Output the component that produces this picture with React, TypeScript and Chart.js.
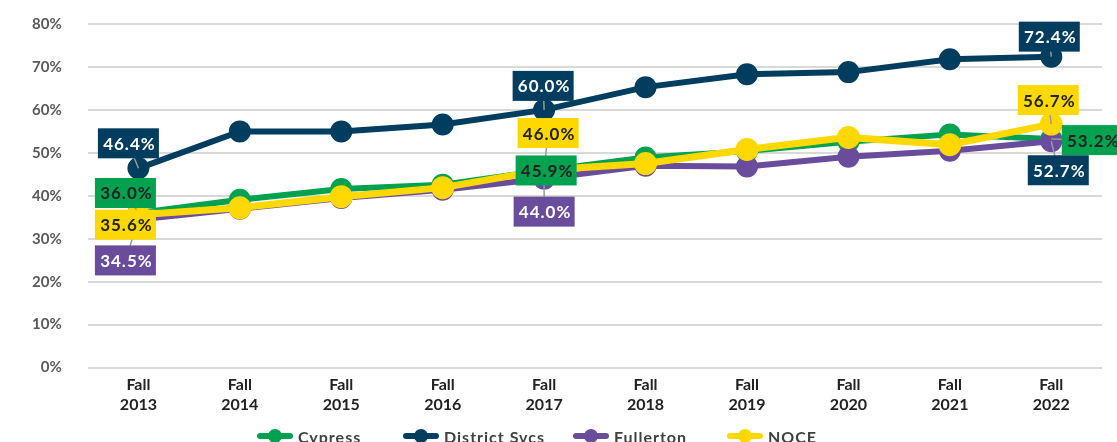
import React, { useEffect, useRef } from "react";
import { Chart, registerables } from "chart.js";

Chart.register(...registerables);

const years = ["2013", "2014", "2015", "2016", "2017", "2018", "2019", "2020", "2021", "2022"];
const categories = years.map((y) => ["Fall", y]);

const cypress = [36.0, 39.1, 41.6, 42.6, 45.9, 48.9, 50.4, 52.6, 54.3, 53.2];
const districtSvcs = [46.4, 55.0, 55.0, 56.6, 60.0, 65.3, 68.3, 68.8, 71.8, 72.4];
const fullerton = [34.5, 37.0, 39.5, 41.4, 44.0, 47.0, 46.8, 49.1, 50.5, 52.7];
const noce = [35.6, 37.2, 39.8, 41.9, 46.0, 47.5, 50.8, 53.6, 51.9, 56.7];

const yTicks = [0, 10, 20, 30, 40, 50, 60, 70, 80];

const GREEN = "#00A24F";
const NAVY = "#003D5E";
const PURPLE = "#6A4C9C";
const YELLOW = "#FFD800";
const FONT = "Lato";

// labelled points: dataset index, point index, pixel offset of label centre, colours
const labels = [
  { ds: 1, i: 0, dx: -10, dy: -25, bg: NAVY, fg: "#fff" },
  { ds: 0, i: 0, dx: -13, dy: -20, bg: GREEN, fg: "#222" },
  { ds: 3, i: 0, dx: -13, dy: 10, bg: YELLOW, fg: "#222" },
  { ds: 2, i: 0, dx: -13, dy: 41, bg: PURPLE, fg: "#fff" },
  { ds: 1, i: 4, dx: -1, dy: -24, bg: NAVY, fg: "#fff" },
  { ds: 3, i: 4, dx: 4, dy: -37, bg: YELLOW, fg: "#222" },
  { ds: 0, i: 4, dx: 2, dy: 0, bg: GREEN, fg: "#222" },
  { ds: 2, i: 4, dx: 0, dy: 33, bg: PURPLE, fg: "#fff" },
  { ds: 1, i: 9, dx: -2, dy: -20, bg: NAVY, fg: "#fff" },
  { ds: 3, i: 9, dx: -3, dy: -24, bg: YELLOW, fg: "#222" },
  { ds: 0, i: 9, dx: 41, dy: 1, bg: GREEN, fg: "#222" },
  { ds: 2, i: 9, dx: 7, dy: 29, bg: NAVY, fg: "#fff" },
];

const legendItems = [
  { text: "Cypress", color: GREEN, x: 257 },
  { text: "District Svcs", color: NAVY, x: 403 },
  { text: "Fullerton", color: PURPLE, x: 573 },
  { text: "NOCE", color: YELLOW, x: 727 },
];

const labelPlugin = {
  id: "labelPlugin",
  afterDatasetsDraw(chart: any) {
    const ctx = chart.ctx;
    ctx.save();
    ctx.font = `bold 17px ${FONT}`;
    (ctx as any).letterSpacing = "1px";
    const placed = labels.map((l) => {
      const el = chart.getDatasetMeta(l.ds).data[l.i];
      const v = chart.data.datasets[l.ds].data[l.i] as number;
      return { ...l, px: el.x, py: el.y, cx: el.x + l.dx, cy: el.y + l.dy, text: v.toFixed(1) + "%" };
    });
    ctx.strokeStyle = "#999";
    ctx.lineWidth = 1.5;
    placed.forEach((p) => {
      ctx.beginPath();
      ctx.moveTo(p.px, p.py);
      ctx.lineTo(p.cx, p.cy);
      ctx.stroke();
    });
    placed.forEach((p) => {
      const w = 61;
      const h = 30;
      ctx.fillStyle = p.bg;
      ctx.fillRect(p.cx - w / 2, p.cy - h / 2, w, h);
      ctx.fillStyle = p.fg;
      ctx.textAlign = "center";
      ctx.textBaseline = "middle";
      ctx.fillText(p.text, p.cx + 1, p.cy + 1);
    });
    ctx.restore();
  },
  afterDraw(chart: any) {
    const ctx = chart.ctx;
    ctx.save();
    const y = 436;
    legendItems.forEach((it) => {
      ctx.strokeStyle = it.color;
      ctx.lineWidth = 6;
      ctx.lineCap = "round";
      ctx.beginPath();
      ctx.moveTo(it.x + 3, y);
      ctx.lineTo(it.x + 33, y);
      ctx.stroke();
      ctx.fillStyle = it.color;
      ctx.beginPath();
      ctx.arc(it.x + 18, y, 7, 0, Math.PI * 2);
      ctx.fill();
      ctx.fillStyle = "#404040";
      ctx.font = `bold 16px ${FONT}`;
      (ctx as any).letterSpacing = "1px";
      ctx.textAlign = "left";
      ctx.textBaseline = "middle";
      ctx.fillText(it.text, it.x + 41, y + 2);
    });
    ctx.restore();
  },
};

export default function App() {
  const ref = useRef<HTMLCanvasElement>(null);
  useEffect(() => {
    if (!ref.current) return;
    const mk = (label: string, data: number[], color: string, width: number, order: number) => ({
      label,
      data,
      borderColor: color,
      backgroundColor: color,
      pointBackgroundColor: color,
      pointBorderColor: color,
      borderWidth: width,
      pointRadius: 8,
      pointHoverRadius: 8,
      order,
      tension: 0,
    });
    const chart = new Chart(ref.current, {
      type: "line",
      data: {
        labels: categories,
        datasets: [
          mk("Cypress", cypress, GREEN, 6, 2),
          mk("District Svcs", districtSvcs, NAVY, 6, 3),
          mk("Fullerton", fullerton, PURPLE, 6, 1),
          mk("NOCE", noce, YELLOW, 7, 0),
        ],
      },
      options: {
        animation: false,
        responsive: false,
        maintainAspectRatio: false,
        layout: { padding: { top: 24, left: 6, right: 13, bottom: 28 } },
        plugins: {
          legend: { display: false },
          tooltip: { enabled: false },
        },
        scales: {
          x: {
            offset: true,
            grid: { display: false },
            border: { display: false },
            ticks: {
              color: "#222",
              font: { family: FONT, size: 16, weight: "bold", lineHeight: 1.2 },
              padding: 0,
              maxRotation: 0,
            },
          },
          y: {
            min: 0,
            max: 80,
            afterBuildTicks: (axis: any) => {
              axis.ticks = yTicks.map((v) => ({ value: v }));
            },
            afterFit: (axis: any) => {
              axis.paddingTop = 0;
              axis.paddingBottom = 0;
            },
            grid: { color: "#d9d9d9", lineWidth: 2, drawTicks: false },
            border: { display: false },
            ticks: {
              color: "#595959",
              font: { family: FONT, size: 15, weight: "bold" },
              padding: 26,
              callback: (v: any) => v + "%",
            },
          },
        },
      },
      plugins: [labelPlugin],
    });
    return () => chart.destroy();
  }, []);
  return (
    <div style={{ position: "absolute", left: 0, top: 0, width: 1117, height: 442, overflow: "hidden", background: "#fff" }}>
      <canvas ref={ref} width={1117} height={442} style={{ width: 1117, height: 442 }} />
    </div>
  );
}
